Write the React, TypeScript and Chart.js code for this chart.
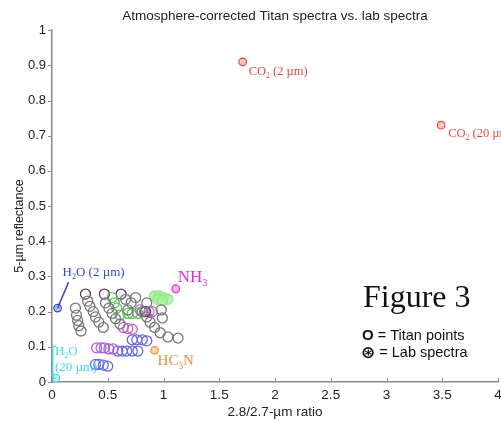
import React, { useEffect, useRef } from "react";
import { Chart, registerables } from "chart.js";
Chart.register(...registerables);

// ---------- data ----------
const chartTitle = "Atmosphere-corrected Titan spectra vs. lab spectra";
const xTitle = "2.8/2.7-\u00b5m ratio";
const yTitle = "5-\u00b5m reflectance";
const xTickLabels = ["0", "0.5", "1", "1.5", "2", "2.5", "3", "3.5", "4"];
const yTickLabels = ["0", "0.1", "0.2", "0.3", "0.4", "0.5", "0.6", "0.7", "0.8", "0.9", "1"];

// Titan points (x = 2.8/2.7 ratio, y = 5-µm reflectance)
const titanGrey: [number, number][] = [
  [0.21, 0.21], [0.22, 0.19], [0.23, 0.175], [0.24, 0.16], [0.26, 0.145],
  [0.32, 0.23], [0.34, 0.215], [0.37, 0.2], [0.39, 0.185], [0.42, 0.17], [0.46, 0.155],
  [0.48, 0.225], [0.51, 0.21], [0.54, 0.195], [0.57, 0.18], [0.61, 0.165],
  [0.66, 0.235], [0.71, 0.225], [0.68, 0.205], [0.75, 0.24],
  [0.85, 0.225], [0.81, 0.2], [0.85, 0.185], [0.88, 0.17], [0.92, 0.155],
  [0.97, 0.14], [1.04, 0.128], [1.13, 0.125], [0.98, 0.205], [0.99, 0.182],
];
const titanDark: [number, number][] = [
  [0.3, 0.25], [0.47, 0.25], [0.62, 0.25], [0.84, 0.2],
];
const titanGreen: [number, number][] = [
  [0.54, 0.24], [0.56, 0.225], [0.58, 0.21], [0.61, 0.19], [0.68, 0.195], [0.72, 0.195], [0.77, 0.195],
];
const titanLime: [number, number][] = [
  [0.92, 0.245], [0.96, 0.245], [1.0, 0.24], [1.04, 0.235], [0.95, 0.235], [0.99, 0.232],
];
const titanMagenta: [number, number][] = [
  [0.64, 0.155], [0.68, 0.152], [0.72, 0.15], [0.79, 0.205], [0.83, 0.2], [0.87, 0.2], [0.9, 0.2],
];
const titanViolet: [number, number][] = [
  [0.4, 0.097], [0.44, 0.097], [0.47, 0.097], [0.51, 0.094], [0.55, 0.094],
];
const titanBlue: [number, number][] = [
  [0.59, 0.088], [0.63, 0.088], [0.67, 0.088], [0.72, 0.088], [0.77, 0.088],
  [0.72, 0.12], [0.76, 0.12], [0.81, 0.12], [0.85, 0.117],
  [0.39, 0.05], [0.42, 0.05], [0.46, 0.048], [0.5, 0.045],
];

// Lab spectra
const labNames = ["CO2 (2 \u00b5m)", "CO2 (20 \u00b5m)", "H2O (2 \u00b5m)", "NH3", "HC3N", "H2O\n(20 \u00b5m)"];
const labX = [1.71, 3.49, 0.05, 1.11, 0.92, 0.035];
const labY = [0.91, 0.73, 0.21, 0.265, 0.09, 0.011];

// ---------- styles ----------
const labColors = ["#e84545", "#e84545", "#3548d0", "#d62fd6", "#e8913e", "#3fd6e6"];
const labFill = ["#f9c4c4", "#f9c4c4", "#b8c0f4", "#f4b4f4", "#f8d4b0", "#c0f4f8"];
const labFontSize = [12.5, 12.5, 13, 17, 15, 13];
// label offsets from the marker (px): [dx, dyBaseline]
const labOffsets: [number, number][] = [[6, 13], [7, 12], [5, -32], [2, -7], [3, 15], [-1, -23]];

const SERIF = '"Liberation Serif", "Times New Roman", serif';
const SANS = '"Liberation Sans", Arial, sans-serif';

function drawFormula(ctx: CanvasRenderingContext2D, text: string, x: number, y: number, size: number) {
  let cx = x;
  const paren = text.indexOf("(");
  for (let i = 0; i < text.length; i++) {
    const ch = text[i];
    const isSub = /\d/.test(ch) && (paren < 0 || i < paren) && i > 0 && /[A-Za-z]/.test(text[i - 1]);
    const s = isSub ? size * 0.62 : size;
    ctx.font = `${s}px ${SERIF}`;
    ctx.fillText(ch, cx, isSub ? y + size * 0.22 : y);
    cx += ctx.measureText(ch).width;
  }
}

const annotationPlugin = {
  id: "annotations",
  afterDatasetsDraw(chart: any) {
    const ctx: CanvasRenderingContext2D = chart.ctx;
    const xs = chart.scales.x;
    const ys = chart.scales.y;
    ctx.save();
    ctx.textBaseline = "alphabetic";
    ctx.textAlign = "left";
    for (let i = 0; i < labNames.length; i++) {
      const px = xs.getPixelForValue(labX[i]);
      const py = ys.getPixelForValue(labY[i]);
      const [dx, dy] = labOffsets[i];
      ctx.fillStyle = labColors[i];
      ctx.strokeStyle = labColors[i];
      const lines = labNames[i].split("\n");
      lines.forEach((ln, k) => {
        drawFormula(ctx, ln, px + dx, py + dy + k * 16, labFontSize[i]);
      });
      if (i === 2) {
        ctx.lineWidth = 1.5;
        ctx.beginPath();
        ctx.moveTo(px, py);
        ctx.lineTo(px + 11, py + dy + 6);
        ctx.stroke();
      }
      if (i === 5) {
        ctx.lineWidth = 1.2;
        ctx.beginPath();
        ctx.moveTo(px, py);
        ctx.lineTo(px - 3, py);
        ctx.lineTo(px - 3, py + dy - 9);
        ctx.lineTo(px, py + dy - 9);
        ctx.stroke();
      }
    }
    // Figure caption & key
    ctx.fillStyle = "#111";
    ctx.font = `32px ${SERIF}`;
    ctx.fillText("Figure 3", 363, 307);
    ctx.textBaseline = "middle";
    ctx.font = `bold 15px ${SANS}`;
    ctx.fillText("O", 362, 336);
    let w = ctx.measureText("O").width;
    ctx.font = `14.5px ${SANS}`;
    ctx.fillText(" = Titan points", 362 + w, 336);
    ctx.font = `bold 17px "DejaVu Sans", sans-serif`;
    ctx.fillText("\u229b", 361, 354);
    w = ctx.measureText("\u229b").width;
    ctx.font = `14.5px ${SANS}`;
    ctx.fillText(" = Lab spectra", 361 + w, 353);
    // y-axis title
    ctx.save();
    ctx.translate(20, 226);
    ctx.rotate(-Math.PI / 2);
    ctx.textAlign = "center";
    ctx.font = `12.5px ${SANS}`;
    ctx.fillStyle = "#222";
    ctx.fillText(yTitle, 0, 0);
    ctx.restore();
    // tick marks
    ctx.strokeStyle = "#888";
    ctx.lineWidth = 1;
    xs.ticks.forEach((t: any) => {
      const p = Math.round(xs.getPixelForValue(t.value)) + 0.5;
      ctx.beginPath();
      ctx.moveTo(p, ys.bottom);
      ctx.lineTo(p, ys.bottom - 4);
      ctx.stroke();
    });
    ys.ticks.forEach((t: any) => {
      const p = Math.round(ys.getPixelForValue(t.value)) + 0.5;
      ctx.beginPath();
      ctx.moveTo(xs.left, p);
      ctx.lineTo(xs.left - 4, p);
      ctx.stroke();
    });
    ctx.restore();
  },
};

function titanSet(pts: [number, number][], color: string, fill = "transparent") {
  return {
    data: pts.map(([x, y]) => ({ x, y })),
    pointStyle: "circle",
    pointRadius: 5,
    pointBorderWidth: 1.3,
    borderColor: color,
    backgroundColor: fill,
    showLine: false,
  };
}

export default function App() {
  const ref = useRef<HTMLCanvasElement>(null);
  useEffect(() => {
    if (!ref.current) return;
    const labPts = labX.map((x, i) => ({ x, y: labY[i] }));
    const chart = new Chart(ref.current, {
      type: "scatter",
      data: {
        datasets: [
          titanSet(titanGrey, "#777777"),
          titanSet(titanGreen, "#5cc25c"),
          titanSet(titanLime, "#8fe884", "rgba(170,240,160,0.8)"),
          titanSet(titanDark, "#5a3c5a"),
          titanSet(titanMagenta, "#c266cc"),
          titanSet(titanViolet, "#a85ed8"),
          titanSet(titanBlue, "#6a6ae0"),
          {
            data: labPts,
            pointStyle: "circle",
            pointRadius: 3.8,
            pointBorderWidth: 1.2,
            borderColor: labColors,
            backgroundColor: labFill,
            pointBorderColor: labColors,
            pointBackgroundColor: labFill,
            showLine: false,
          } as any,
          {
            data: labPts,
            pointStyle: "star",
            pointRadius: 2,
            pointBorderWidth: 1,
            pointBorderColor: labColors,
            borderColor: labColors,
            showLine: false,
          } as any,
        ],
      },
      options: {
        animation: false,
        responsive: false,
        events: [],
        layout: { padding: { left: 0, right: 22, top: 0, bottom: 0 } },
        plugins: {
          legend: { display: false },
          tooltip: { enabled: false },
          title: {
            display: true,
            text: chartTitle,
            fullSize: false,
            color: "#222",
            font: { family: SANS, size: 13.5, weight: "normal" },
            padding: { top: 8, bottom: 6 },
          },
        },
        scales: {
          x: {
            type: "linear",
            min: 0,
            max: 4,
            afterFit: (s: any) => { s.height = 40; },
            ticks: {
              stepSize: 0.5,
              padding: 5,
              color: "#222",
              font: { family: SANS, size: 13.5 },
              maxRotation: 0,
              callback: (v: any) => xTickLabels[Math.round(Number(v) * 2)] ?? "",
            },
            grid: { display: true, drawOnChartArea: false, drawTicks: false },
            border: { display: true, color: "#8a8a8a", width: 1.5 },
            title: {
              display: true,
              text: xTitle,
              color: "#222",
              font: { family: SANS, size: 13.5 },
              padding: { top: 0, bottom: 2 },
            },
          },
          y: {
            type: "linear",
            min: 0,
            max: 1,
            afterFit: (s: any) => { s.width = 52; },
            ticks: {
              stepSize: 0.1,
              padding: 6,
              color: "#222",
              font: { family: SANS, size: 13 },
              callback: (v: any) => yTickLabels[Math.round(Number(v) * 10)] ?? "",
            },
            grid: { display: true, drawOnChartArea: false, drawTicks: false },
            border: { display: true, color: "#8a8a8a", width: 1.5 },
          },
        },
      },
      plugins: [annotationPlugin],
    } as any);
    return () => chart.destroy();
  }, []);
  return (
    <div style={{ position: "fixed", left: 0, top: 0, width: 501, height: 422, overflow: "hidden", background: "#fff" }}>
      <canvas ref={ref} width={520} height={422} style={{ display: "block" }} />
    </div>
  );
}
